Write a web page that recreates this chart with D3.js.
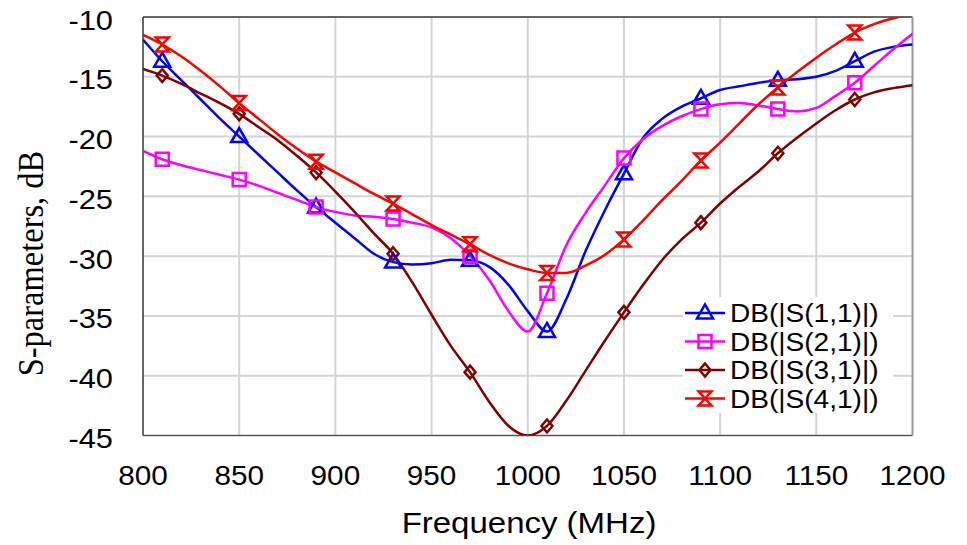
<!DOCTYPE html>
<html><head><meta charset="utf-8">
<script src="https://cdn.jsdelivr.net/npm/d3@7"></script>
<style>body{margin:0;background:#fff}svg{display:block}</style>
</head><body><svg id="c" width="967" height="545"></svg>
<script>
const freqs = d3.range(800, 1201, 10);
const s11 = [-11.9,-13.7,-15.3,-16.9,-18.5,-20.0,-21.5,-23.0,-24.5,-25.9,-27.2,-28.5,-29.8,-30.5,-30.7,-30.6,-30.3,-30.35,-30.9,-32.4,-34.6,-36.3,-33.6,-29.6,-26.2,-23.1,-20.1,-18.5,-17.5,-16.8,-16.1,-15.8,-15.5,-15.3,-15.2,-15.0,-14.5,-13.7,-12.9,-12.5,-12.3];
const s21 = [-21.2,-21.9,-22.4,-22.8,-23.2,-23.6,-24.1,-24.7,-25.3,-25.9,-26.3,-26.6,-26.7,-26.9,-27.2,-27.6,-28.5,-30.0,-32.0,-34.6,-36.3,-33.1,-29.1,-26.4,-24.1,-21.8,-20.2,-19.1,-18.3,-17.7,-17.3,-17.2,-17.4,-17.7,-17.9,-17.6,-16.6,-15.5,-14.1,-12.7,-11.4];
const s31 = [-14.35,-14.9,-15.6,-16.4,-17.2,-18.1,-19.2,-20.3,-21.6,-23.0,-24.6,-26.3,-28.1,-29.8,-32.2,-34.9,-37.5,-39.7,-42.2,-44.2,-45.0,-44.2,-42.1,-39.6,-37.1,-34.7,-32.4,-30.3,-28.6,-27.2,-25.6,-24.2,-22.9,-21.4,-20.1,-18.9,-17.8,-16.9,-16.3,-15.95,-15.7];
const s41 = [-11.5,-12.3,-13.3,-14.5,-15.8,-17.2,-18.5,-19.8,-21.0,-22.1,-23.0,-23.9,-24.8,-25.6,-26.5,-27.4,-28.2,-29.0,-29.9,-30.6,-31.1,-31.4,-31.4,-30.8,-29.9,-28.6,-27.0,-25.3,-23.7,-22.0,-20.5,-18.9,-17.3,-15.9,-14.6,-13.4,-12.3,-11.3,-10.6,-10.1,-9.8];
const markerFreqs = [810, 850, 890, 930, 970, 1010, 1050, 1090, 1130, 1170];
const seriesNames = ["DB(|S(1,1)|)", "DB(|S(2,1)|)", "DB(|S(3,1)|)", "DB(|S(4,1)|)"];
const seriesValues = [s11, s21, s31, s41];
const seriesColors = ["#0000ff", "#ff00ff", "#800000", "#ff0000"];
const seriesMarkers = ["triangle", "square", "diamond", "hourglass"];
const xTicks = [800, 850, 900, 950, 1000, 1050, 1100, 1150, 1200];
const yTicks = [-10, -15, -20, -25, -30, -35, -40, -45];
const xTitle = "Frequency (MHz)";
const yTitle = "S-parameters, dB";

const L = 143, R = 912.5, T = 17, B = 435.5;
const svg = d3.select("#c");
const x = d3.scaleLinear().domain([800, 1200]).range([L, R]);
const y = d3.scaleLinear().domain([-45, -10]).range([B, T]);

svg.append("defs").append("clipPath").attr("id","clip")
  .append("rect").attr("x",L).attr("y",T).attr("width",R-L).attr("height",B-T);

// grid
const g = svg.append("g");
g.selectAll(".vx").data(xTicks.slice(1,-1)).join("line")
  .attr("x1",d=>x(d)).attr("x2",d=>x(d)).attr("y1",T).attr("y2",B)
  .attr("stroke","#d4d4d4").attr("stroke-width",2);
g.selectAll(".hy").data(yTicks.slice(1,-1)).join("line")
  .attr("y1",d=>y(d)).attr("y2",d=>y(d)).attr("x1",L).attr("x2",R)
  .attr("stroke","#d4d4d4").attr("stroke-width",2);

// legend background (hides grid)
svg.append("rect").attr("x",683).attr("y",297).attr("width",210).attr("height",116).attr("fill","#fff");

// border
svg.append("line").attr("x1",L).attr("x2",R).attr("y1",T).attr("y2",T).attr("stroke","#333").attr("stroke-width",1.5);
svg.append("line").attr("x1",L).attr("x2",L).attr("y1",T).attr("y2",B).attr("stroke","#333").attr("stroke-width",1.5);
svg.append("line").attr("x1",L).attr("x2",R).attr("y1",B).attr("y2",B).attr("stroke","#555").attr("stroke-width",1.5);
svg.append("line").attr("x1",R).attr("x2",R).attr("y1",T).attr("y2",B).attr("stroke","#999").attr("stroke-width",2);

function markerPath(type){
  if(type==="triangle") return "M0,-8.5 L8,5.5 L-8,5.5 Z";
  if(type==="square") return "M-6.5,-6.5 H6.5 V6.5 H-6.5 Z";
  if(type==="diamond") return "M0,-6.5 L5.5,0 L0,6.5 L-5.5,0 Z";
  return "M-6.5,-7 H6.5 L-6.5,7 H6.5 Z";
}

const line = d3.line().x((d,i)=>x(freqs[i])).y(d=>y(d)).curve(d3.curveMonotoneX);
const plot = svg.append("g").attr("clip-path","url(#clip)");
seriesValues.forEach((vals,k)=>{
  plot.append("path").attr("d",line(vals)).attr("fill","none")
    .attr("stroke",seriesColors[k]).attr("stroke-width",2.5);
});
seriesValues.forEach((vals,k)=>{
  const pts = markerFreqs.map(f=>({f, v: vals[freqs.indexOf(f)]}));
  svg.append("g").selectAll("path").data(pts).join("path")
    .attr("transform",d=>`translate(${x(d.f)},${y(d.v)})`)
    .attr("d",markerPath(seriesMarkers[k]))
    .attr("fill","none").attr("stroke",seriesColors[k]).attr("stroke-width",2.5);
});

// axis labels
const font = "Liberation Sans, Arial, sans-serif";
svg.append("g").selectAll("text").data(xTicks).join("text")
  .attr("transform",d=>`translate(${x(d)},484.5) scale(1.1,1)`)
  .attr("text-anchor","middle").attr("font-family",font).attr("font-size",27)
  .text(d=>d);
svg.append("g").selectAll("text").data(yTicks).join("text")
  .attr("transform",d=>`translate(113,${y(d)+12.5}) scale(1.1,1)`)
  .attr("text-anchor","end").attr("font-family",font).attr("font-size",28)
  .text(d=>d);
svg.append("text").attr("transform","translate(529,533) scale(1.1,1)")
  .attr("text-anchor","middle").attr("font-family",font).attr("font-size",30).text(xTitle);
svg.append("text").attr("transform","translate(43,263.5) scale(1.1,1) rotate(-90)")
  .attr("text-anchor","middle").attr("font-family","Liberation Serif, Times New Roman, serif")
  .attr("font-size",32.5).text(yTitle);

// legend
const leg = svg.append("g");
seriesNames.forEach((n,k)=>{
  const yy = 313 + k*28.5;
  leg.append("line").attr("x1",685).attr("x2",725).attr("y1",yy).attr("y2",yy)
    .attr("stroke",seriesColors[k]).attr("stroke-width",2.5);
  leg.append("path").attr("transform",`translate(705,${yy})`).attr("d",markerPath(seriesMarkers[k]))
    .attr("fill","none").attr("stroke",seriesColors[k]).attr("stroke-width",2.5);
  leg.append("text").attr("transform",`translate(730,${yy+9}) scale(1.1,1)`)
    .attr("font-family",font).attr("font-size",25.5).text(n);
});
</script></body></html>
